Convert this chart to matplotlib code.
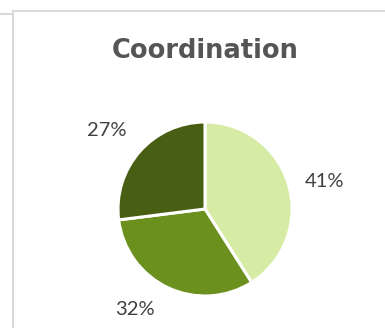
import matplotlib.pyplot as plt
from matplotlib.lines import Line2D

# --- data ---
categories = ['A', 'B', 'C']
shares = [41, 32, 27]
colors = ['#D6ECA4', '#6B901E', '#485E12']
title = 'Coordination'

# label anchors (in pie radius units), best-fit style placement
label_pos = [(1.37, 0.32), (-0.80, -1.15), (-1.13, 0.90)]

W, H = 385, 328
fig = plt.figure(figsize=(W / 100, H / 100), dpi=100)
fig.patch.set_facecolor('white')

# card border (light gray frame)
border = '#DADADA'
fig.add_artist(Line2D([0, 12 / W], [1 - 14 / H, 1 - 14 / H], color=border, lw=1.5,
                      transform=fig.transFigure))
fig.add_artist(Line2D([13 / W, 13 / W], [0, 1 - 11 / H], color=border, lw=1.5,
                      transform=fig.transFigure))
fig.add_artist(Line2D([13 / W, 1], [1 - 11 / H, 1 - 11 / H], color=border, lw=1.5,
                      transform=fig.transFigure))

# pie axes placed in pixels: centre (205, 209), radius 87
cx, cy, r = 205, 209, 87
ax = fig.add_axes([(cx - r) / W, (H - cy - r) / H, 2 * r / W, 2 * r / H])
wedges, _ = ax.pie(shares, colors=colors, startangle=90, counterclock=False,
                   wedgeprops=dict(edgecolor='white', linewidth=2.2))
for s, (lx, ly) in zip(shares, label_pos):
    ax.text(lx, ly, f'{s}%', ha='center', va='center', fontsize=14.5,
            color='#404040', family='Lato', clip_on=False)
ax.set_xlim(-1, 1)
ax.set_ylim(-1, 1)
ax.set_aspect('equal')
ax.axis('off')

fig.text(205 / W, 1 - 51 / H, title, ha='center', va='center', fontsize=18.5,
         fontweight='bold', color='#555555', family='DejaVu Sans')

fig.savefig('out.png', dpi=100)
